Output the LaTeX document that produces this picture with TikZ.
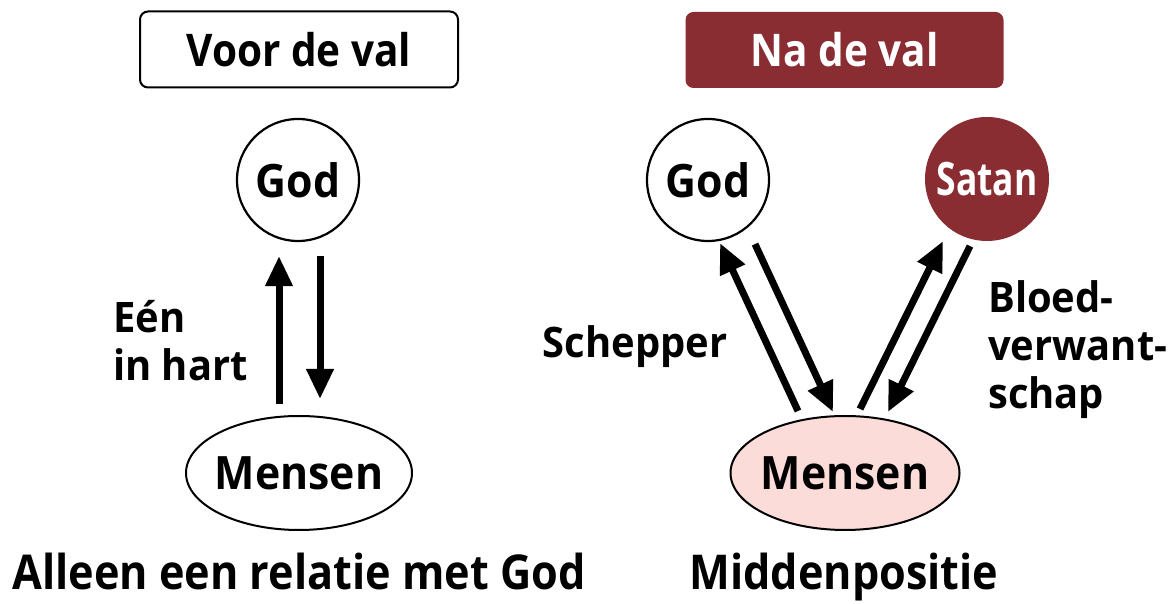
\documentclass[tikz,border=0pt]{standalone}
\usepackage{fontspec}
\setmainfont{Open Sans}[BoldFont={* Bold},FakeStretch=0.9]
\newfontfamily\nodefont{Open Sans}[BoldFont={* Bold},FakeStretch=0.93]
\newfontfamily\lblfont{Open Sans}[BoldFont={* Bold},FakeStretch=0.95]
\newfontfamily\satanfont{Open Sans}[BoldFont={* Bold},FakeStretch=0.77]
\usetikzlibrary{arrows.meta,calc,shapes.geometric}
\definecolor{maroon}{HTML}{8A2D33}
\definecolor{pinkfill}{HTML}{FCDCD8}
\begin{document}
\begin{tikzpicture}[x=1pt,y=1pt,
  ttxt/.style={font=\fontsize{45}{52}\selectfont\bfseries, inner sep=0pt},
  ntxt/.style={font=\nodefont\fontsize{46}{52}\selectfont\bfseries, inner sep=0pt},
  ltxt/.style={font=\lblfont\fontsize{42}{48}\selectfont\bfseries, inner sep=0pt},
  ctxt/.style={font=\fontsize{48}{56}\selectfont\bfseries, inner sep=0pt},
  titlebox/.style={ttxt, rounded corners=8pt, minimum width=318pt, minimum height=76pt},
  circ/.style={ntxt, circle, draw=black, line width=2.2pt, minimum size=122pt},
  ell/.style={ntxt, ellipse, draw=black, line width=2pt, inner xsep=-20pt, inner ysep=-5pt, minimum width=226pt, minimum height=114pt},
  arr/.style={line width=7pt, -{Triangle[length=30pt,width=26pt]}}
]
\useasboundingbox (0,0) rectangle (1175,604);
% titles
\node[titlebox, draw=black, line width=2pt] (tL) at (299,554.5) {Voor de val};
\node[titlebox, fill=maroon, text=white] (tR) at (844.5,554) {Na de val};
% left diagram
\node[circ] (gL) at (298,424) {God};
\node[ell] (mL) at (299,131) {Mensen};
\draw[arr] ($(mL.north)+(-20,11)$) -- ($(gL.south)+(-19,-14)$);
\draw[arr] ($(gL.south)+(22,-14)$) -- ($(mL.north)+(21,16)$);
\node[ltxt, anchor=north west, align=left] (lblL) at (113,304) {Eén\\in hart};
% right diagram
\node[circ] (gR) at (708,424) {God};
\node[circ, draw=none, fill=maroon, text=white, minimum size=124pt, font=\satanfont\fontsize{46}{52}\selectfont\bfseries] (sat) at (987,425) {Satan};
\node[ell, fill=pinkfill, minimum width=229pt] (mR) at (845,131) {Mensen};
\draw[arr] ($(mR.north)+(-47,4)$) -- ($(gR.south)+(12,-1)$);
\draw[arr] ($(gR.south)+(47,-2)$) -- ($(mR.north)+(-12,3)$);
\draw[arr] ($(mR.north)+(15,6)$) -- ($(sat.south)+(-44,1)$);
\draw[arr] ($(sat.south)+(-17,-4)$) -- ($(mR.north)+(43,3)$);
\node[ltxt] (schep) at (635,257) {Schepper};
\node[ltxt, anchor=north west, align=left] (bloed) at (988,324) {Bloed-\\verwant-\\schap};
% bottom captions
\node[ctxt, anchor=base] (capL) at (299,14) {Alleen een relatie met God};
\node[ctxt, anchor=base] (capR) at (844,14) {Middenpositie};
\end{tikzpicture}
\end{document}
